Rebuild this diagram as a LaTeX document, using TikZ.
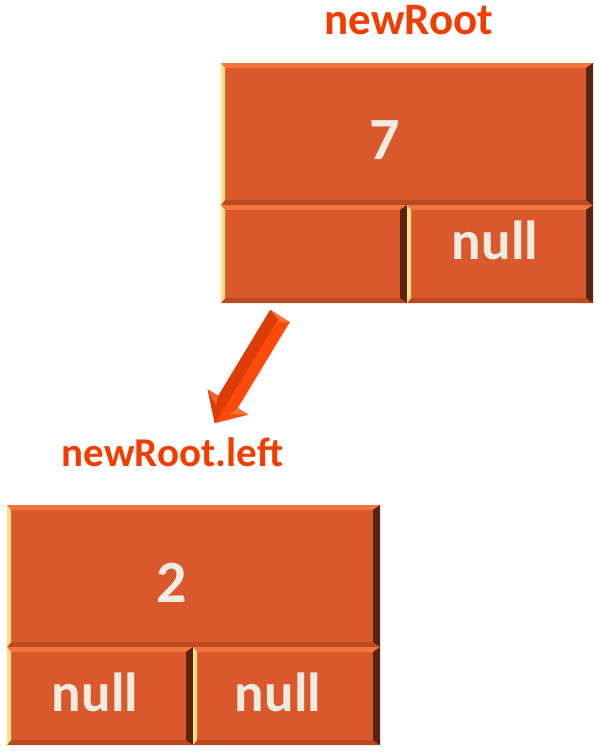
\documentclass[tikz,border=0pt]{standalone}
\usepackage{fontspec}
\setmainfont{Carlito}
\definecolor{boxfill}{HTML}{DA592C}
\definecolor{bevtop}{HTML}{F4743F}
\definecolor{bevbot}{HTML}{BA4A22}
\definecolor{bevleft}{HTML}{FFDF86}
\definecolor{bevright}{HTML}{5A2210}
\definecolor{txtcol}{HTML}{EEEBE1}
\definecolor{labcol}{HTML}{F23D00}
\definecolor{arrlight}{HTML}{FF4A0C}
\definecolor{arrdark}{HTML}{DC3C08}
\definecolor{arrcap}{HTML}{F6703A}
\tikzset{
  cell/.style={rectangle, inner sep=0pt, outer sep=0pt, fill=boxfill,
    path picture={
      \fill[bevtop] (path picture bounding box.north west) -- (path picture bounding box.north east)
        -- ([xshift=-7pt,yshift=-5pt]path picture bounding box.north east)
        -- ([xshift=4pt,yshift=-5pt]path picture bounding box.north west) -- cycle;
      \fill[bevbot] (path picture bounding box.south west) -- (path picture bounding box.south east)
        -- ([xshift=-7pt,yshift=5pt]path picture bounding box.south east)
        -- ([xshift=4pt,yshift=5pt]path picture bounding box.south west) -- cycle;
      \fill[bevleft] (path picture bounding box.north west) -- ([xshift=4pt,yshift=-5pt]path picture bounding box.north west)
        -- ([xshift=4pt,yshift=5pt]path picture bounding box.south west)
        -- (path picture bounding box.south west) -- cycle;
      \fill[bevright] (path picture bounding box.north east) -- ([xshift=-7pt,yshift=-5pt]path picture bounding box.north east)
        -- ([xshift=-7pt,yshift=5pt]path picture bounding box.south east)
        -- (path picture bounding box.south east) -- cycle;
    }},
  celltxt/.style={text=txtcol, font=\fontsize{55}{55}\selectfont\bfseries, inner sep=0pt},
  digtxt/.style={text=txtcol, font=\fontsize{60}{60}\selectfont\bfseries, inner sep=0pt},
  labtxt/.style={text=labcol, font=\fontsize{41}{41}\selectfont\bfseries, inner sep=0pt, anchor=base}
}
\begin{document}
\begin{tikzpicture}[x=1pt,y=-1pt]
\useasboundingbox (0,0) rectangle (601,753);
% top box
\node[cell, minimum width=372pt, minimum height=142pt] (r7top) at (407,134) {};
\node[cell, minimum width=186pt, minimum height=98pt] (r7left) at (314,254) {};
\node[cell, minimum width=186pt, minimum height=98pt] (r7right) at (500,254) {};
\node[digtxt] (t7) at (385,140) {7};
\node[celltxt] (t7null) at (495,240) {null};
\node[labtxt, font=\fontsize{45}{45}\selectfont\bfseries] (lab1) at (409,34) {newRoot};
% bottom box
\node[cell, minimum width=373pt, minimum height=142pt] (r2top) at (193.5,576) {};
\node[cell, minimum width=186pt, minimum height=98pt] (r2left) at (100,696) {};
\node[cell, minimum width=187pt, minimum height=98pt] (r2right) at (286.5,696) {};
\node[digtxt] (t2) at (172,583) {2};
\node[celltxt] (t2nl) at (95,692) {null};
\node[celltxt] (t2nr) at (278,692) {null};
\node[labtxt] (lab2) at (172.5,466) {newRoot.left};
% arrow
\coordinate (as) at (280,316);
\coordinate (ab) at (228,402);
\coordinate (at) at (214.75,423.2);
\fill[arrlight] (270.25,309.9) -- (218.25,395.9) -- (207.6,389.3) -- (at) -- (248.4,414.7) -- (237.75,408.1) -- (289.75,322.1) -- cycle;
\fill[arrdark] (270.25,309.9) -- (218.25,395.9) -- (207.6,389.3) -- (at) -- (ab) -- (as) -- cycle;
\fill[arrcap] (270.25,309.9) -- (289.75,322.1) -- (280.5,322) -- cycle;
\fill[arrcap] (237.75,408.1) -- (248.4,414.7) -- (230,414) -- cycle;
\fill[arrcap!80!arrdark] (218.25,395.9) -- (207.6,389.3) -- (216,405) -- cycle;
\end{tikzpicture}
\end{document}
